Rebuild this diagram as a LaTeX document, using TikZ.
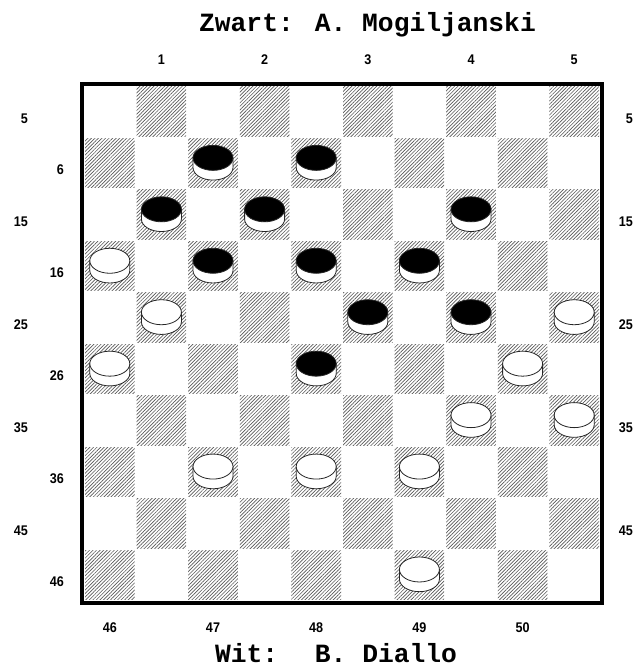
\documentclass[tikz,border=0pt]{standalone}
\usepackage{fontspec}
\usetikzlibrary{patterns.meta}
\newfontfamily\titlefont{Liberation Mono}
\newfontfamily\lblfont[FakeStretch=0.9]{Liberation Sans}
\tikzset{
  titletext/.style={inner sep=0pt, font=\titlefont\bfseries\fontsize{26.3}{30}\selectfont},
  lbl/.style={inner sep=0pt, font=\lblfont\bfseries\fontsize{14}{16}\selectfont},
  hatch/.style={pattern={Lines[angle=45,distance=2.5pt,line width=0.65pt]}, pattern color=black!65},
  piece/.style={draw=black!85, line width=0.8pt, fill=white},
  frame/.style={draw=black, line width=4pt}
}
\newcommand\checker[3]{%
  \pgfmathsetmacro\cx{84+(#1-0.5)*51.6}%
  \pgfmathsetmacro\cy{86+(#2-0.5)*51.45}%
  \filldraw[piece] (\cx-20,\cy-5.3) -- (\cx-20,\cy+4.4)
     arc[start angle=180,end angle=0,x radius=20,y radius=12.5] -- (\cx+20,\cy-5.3) -- cycle;
  \filldraw[piece,fill=#3] (\cx,\cy-5.3) ellipse[x radius=20,y radius=12.5];
}
\begin{document}
\begin{tikzpicture}[x=1pt,y=-1pt]
\clip (0,0) rectangle (632,668);
\fill[white] (0,0) rectangle (632,668);
% hatched dark squares
\foreach \r in {1,...,10}{
  \foreach \c in {1,...,10}{
    \pgfmathtruncatemacro\odd{mod(\r+\c,2)}
    \ifnum\odd=1
      \pgfmathsetmacro\xa{84+(\c-1)*51.6+1}
      \pgfmathsetmacro\xb{84+\c*51.6-1}
      \pgfmathsetmacro\ya{86+(\r-1)*51.45+1}
      \pgfmathsetmacro\yb{86+\r*51.45-1}
      \fill[hatch] (\xa,\ya) rectangle (\xb,\yb);
    \fi
  }
}
% frame
\draw[frame] (82,84) rectangle (602,602.5);
% black pieces (col,row)
\foreach \c/\r in {3/2,5/2,2/3,4/3,8/3,3/4,5/4,7/4,6/5,8/5,5/6}{
  \checker{\c}{\r}{black}
}
% white pieces
\foreach \c/\r in {1/4,2/5,10/5,1/6,9/6,8/7,10/7,3/8,5/8,7/8,7/10}{
  \checker{\c}{\r}{white}
}
% titles
\node[titletext, anchor=base] (blackname) at (367.5,31.7) {Zwart: A. Mogiljanski};
\node[titletext, anchor=base] (whitename) at (336,662.5) {Wit:~ B. Diallo};
% top labels
\foreach \k in {1,...,5}{
  \pgfmathsetmacro\lx{84+(2*\k-0.5)*51.6}
  \node[lbl, anchor=base] (top\k) at (\lx,64.4) {\k};
}
% bottom labels
\foreach \k in {1,...,5}{
  \pgfmathsetmacro\lx{84+(2*\k-1.5)*51.6}
  \pgfmathtruncatemacro\num{45+\k}
  \node[lbl, anchor=base] (bot\k) at (\lx,632.8) {\num};
}
% side labels
\foreach \k in {1,...,5}{
  \pgfmathsetmacro\ly{86+(2*\k-1.5)*51.45+11.8}
  \pgfmathsetmacro\lyb{86+(2*\k-0.5)*51.45+11.8}
  \pgfmathtruncatemacro\na{10*\k-5}
  \pgfmathtruncatemacro\nb{10*\k-4}
  \node[lbl, anchor=base east] (la\k) at (28,\ly) {\na};
  \node[lbl, anchor=base east] (lb\k) at (64,\lyb) {\nb};
  \node[lbl, anchor=base east] (ra\k) at (633,\ly) {\na};
}
\end{tikzpicture}
\end{document}
